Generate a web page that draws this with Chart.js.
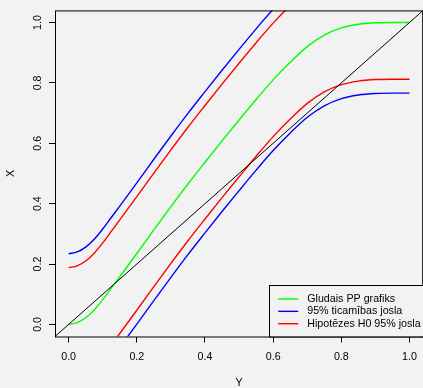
<!DOCTYPE html>
<html>
<head>
<meta charset="utf-8">
<script src="https://cdn.jsdelivr.net/npm/chart.js@4/dist/chart.umd.min.js"></script>
<style>
  html, body { margin: 0; padding: 0; overflow: hidden; background: #f2f2f2; }
  #wrap { width: 425px; height: 388px; position: relative; }
</style>
</head>
<body>
<div id="wrap"><canvas id="c"></canvas></div>
<script>
// ---- data ----
const pValues   = [0, 0.025, 0.05, 0.075, 0.1, 0.125, 0.15, 0.2, 0.25, 0.3, 0.35, 0.4, 0.45, 0.5, 0.55, 0.6, 0.65, 0.7, 0.75, 0.8, 0.85, 0.9, 0.95, 1.0];
const smoothPP  = [0, 0.006, 0.022, 0.048, 0.082, 0.12, 0.158, 0.235, 0.313, 0.39, 0.465, 0.537, 0.608, 0.677, 0.745, 0.81, 0.868, 0.92, 0.958, 0.982, 0.994, 0.999, 1.0, 1.0];
const confUpper = [0.234, 0.240, 0.256, 0.282, 0.316, 0.354, 0.392, 0.469, 0.547, 0.624, 0.699, 0.771, 0.842, 0.911, 0.979, 1.044, 1.102, 1.154, 1.192, 1.216, 1.228, 1.233, 1.234, 1.234];
const confLower = [-0.234, -0.228, -0.212, -0.186, -0.152, -0.114, -0.076, 0.001, 0.079, 0.156, 0.231, 0.303, 0.374, 0.443, 0.511, 0.576, 0.634, 0.686, 0.724, 0.748, 0.760, 0.765, 0.766, 0.766];
const h0Upper   = [0.188, 0.194, 0.210, 0.236, 0.270, 0.308, 0.346, 0.423, 0.501, 0.578, 0.653, 0.725, 0.796, 0.865, 0.933, 0.998, 1.056, 1.108, 1.146, 1.170, 1.182, 1.187, 1.188, 1.188];
const h0Lower   = [-0.188, -0.182, -0.166, -0.140, -0.106, -0.068, -0.030, 0.047, 0.125, 0.202, 0.277, 0.349, 0.420, 0.489, 0.557, 0.622, 0.680, 0.732, 0.770, 0.794, 0.806, 0.811, 0.812, 0.812];
const diagX     = [-0.04, 1.04];
const diagY     = [-0.04, 1.04];
const xTicks    = [0, 0.2, 0.4, 0.6, 0.8, 1.0];
const yTicks    = [0, 0.2, 0.4, 0.6, 0.8, 1.0];
const legendLabels = ["Gludais PP grafiks", "95% ticamības josla", "Hipotēzes H0 95% josla"];
const xTitle = "Y";
const yTitle = "X";

// ---- styling ----
const FONT = "'Liberation Sans', Arial, Helvetica, sans-serif";
const FS = 10.7;
const cGreen = "#00ff00", cBlue = "#0000ff", cRed = "#ff0000";
const legendColors = [cGreen, cBlue, cRed];

const pts = (xs, ys) => xs.map((x, i) => ({x: x, y: ys[i]}));
const lineDs = (label, ys, color) => ({
  label: label, data: pts(pValues, ys), borderColor: color, borderWidth: 1.4,
  pointRadius: 0, fill: false, cubicInterpolationMode: 'monotone', clip: 0
});

const boxLegend = {
  id: 'boxLegend',
  afterDatasetsDraw(chart) {
    const ctx = chart.ctx, a = chart.chartArea;
    ctx.save();
    // plot box
    ctx.strokeStyle = '#000'; ctx.lineWidth = 1;
    ctx.strokeRect(a.left + 0.5, a.top + 0.5, a.right - a.left - 1, a.bottom - a.top);
    // legend
    ctx.font = FS + 'px ' + FONT;
    let tw = 0;
    legendLabels.forEach(t => { tw = Math.max(tw, ctx.measureText(t).width); });
    const right = a.right, bottom = a.bottom;
    const left = right - (2.5 + tw + 9 + 20 + 9);
    const top = bottom - 51.8;
    ctx.fillStyle = '#f2f2f2';
    ctx.fillRect(left, top, right - left, bottom - top);
    ctx.strokeRect(Math.round(left) + 0.5, Math.round(top) + 0.5, right - Math.round(left), bottom - Math.round(top));
    legendLabels.forEach((t, i) => {
      const y = top + 14.3 + i * 12.35;
      ctx.strokeStyle = legendColors[i]; ctx.lineWidth = 1.4;
      ctx.beginPath(); ctx.moveTo(left + 9, y); ctx.lineTo(left + 29, y); ctx.stroke();
      ctx.fillStyle = '#000'; ctx.textAlign = 'left'; ctx.textBaseline = 'middle';
      ctx.fillText(t, left + 38, y);
    });
    ctx.restore();
  }
};

new Chart(document.getElementById('c'), {
  type: 'line',
  data: {
    datasets: [
      { label: 'diag', data: pts(diagX, diagY), borderColor: '#000', borderWidth: 1, pointRadius: 0, fill: false, clip: 0 },
      lineDs(legendLabels[0], smoothPP, cGreen),
      lineDs(legendLabels[1], confUpper, cBlue),
      lineDs(legendLabels[1], confLower, cBlue),
      lineDs(legendLabels[2], h0Upper, cRed),
      lineDs(legendLabels[2], h0Lower, cRed)
    ]
  },
  options: {
    responsive: true, maintainAspectRatio: false, animation: false,
    layout: { padding: { top: 7, right: 1, bottom: 0, left: 0 } },
    plugins: { legend: { display: false }, tooltip: { enabled: false } },
    scales: {
      x: {
        type: 'linear', min: -0.04, max: 1.04,
        afterBuildTicks: s => { s.ticks = xTicks.map(v => ({value: v})); },
        afterFit: s => { s.height = 51.5; },
        ticks: { callback: v => v.toFixed(1), color: '#000', font: { family: FONT, size: FS }, padding: 8, maxRotation: 0, minRotation: 0, autoSkip: false },
        grid: { drawOnChartArea: false, drawTicks: true, tickLength: 6, color: '#000', tickWidth: 1 },
        border: { display: false },
        title: { display: true, text: xTitle, color: '#000', font: { family: FONT, size: FS, lineHeight: 1 }, padding: 0 }
      },
      y: {
        type: 'linear', min: -0.04, max: 1.04,
        afterBuildTicks: s => { s.ticks = yTicks.map(v => ({value: v})); },
        afterFit: s => { s.width = 55; },
        ticks: { callback: v => v.toFixed(1), color: '#000', font: { family: FONT, size: FS }, padding: 4, minRotation: 90, maxRotation: 90, crossAlign: 'center', autoSkip: false },
        grid: { drawOnChartArea: false, drawTicks: true, tickLength: 6, color: '#000', tickWidth: 1 },
        border: { display: false },
        title: { display: true, text: yTitle, color: '#000', font: { family: FONT, size: FS, lineHeight: 1 }, padding: { top: 6, bottom: 0 } }
      }
    }
  },
  plugins: [boxLegend]
});
</script>
</body>
</html>
